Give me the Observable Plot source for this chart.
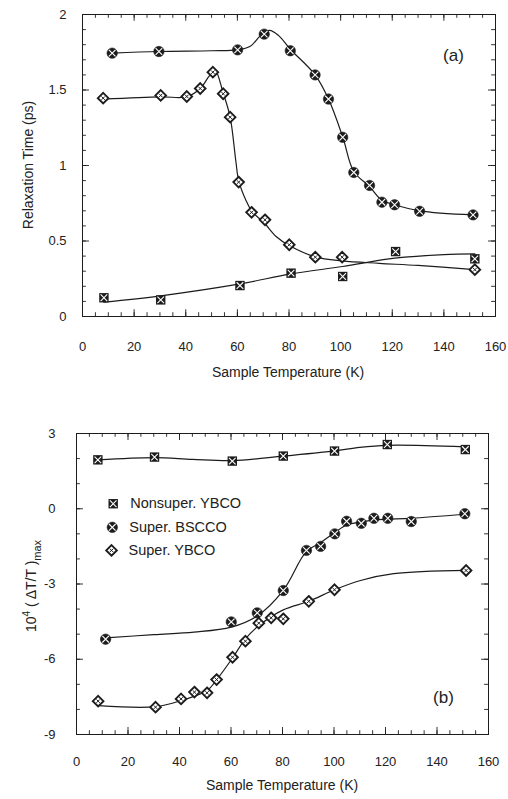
<!DOCTYPE html>
<html><head><meta charset="utf-8">
<script src="https://cdn.jsdelivr.net/npm/d3@7"></script>
<script src="https://cdn.jsdelivr.net/npm/@observablehq/plot@0.6"></script>
<style>
body{margin:0;background:#fff;}
#c{width:508px;}
#c svg{display:block;}
</style>
</head><body><div id="c"></div>
<script>
// ---------- Panel (a): Relaxation time (ps) vs sample temperature (K) ----------
const aBsccoT = [11.5, 29.6, 60.1, 70.4, 80.5, 90.1, 95.3, 100.8, 105.1, 111.2, 116, 120.9, 130.6, 151.3];
const aBsccoV = [1.744, 1.755, 1.766, 1.87, 1.76, 1.60, 1.44, 1.187, 0.954, 0.868, 0.757, 0.74, 0.697, 0.673];
const aBsccoCurveT = [11.5, 29.6, 50, 60.1, 65, 69, 72.5, 76, 80.5, 90.1, 95.3, 100.8, 105.1, 111.2, 116, 120.9, 130.6, 151.3];
const aBsccoCurveV = [1.744, 1.755, 1.76, 1.766, 1.79, 1.86, 1.895, 1.86, 1.77, 1.60, 1.44, 1.19, 0.96, 0.86, 0.77, 0.74, 0.70, 0.673];

const aSybcoT = [8, 30.3, 40.4, 45.6, 50.5, 54.5, 57.2, 60.5, 65.5, 70.7, 80.1, 90.2, 100.6, 152];
const aSybcoV = [1.446, 1.464, 1.457, 1.51, 1.618, 1.475, 1.32, 0.89, 0.69, 0.64, 0.475, 0.393, 0.393, 0.31];
const aSybcoCurveT = [8, 30.3, 40.4, 45.6, 49, 51.3, 54.5, 57.2, 59.4, 60.5, 63.3, 65.5, 70.7, 75, 80.1, 90.2, 100.6, 115, 130, 152];
const aSybcoCurveV = [1.44, 1.455, 1.455, 1.51, 1.59, 1.632, 1.48, 1.32, 1.03, 0.90, 0.77, 0.70, 0.614, 0.53, 0.47, 0.395, 0.368, 0.352, 0.338, 0.31];

const aNybcoT = [8.3, 30.3, 61, 80.8, 100.8, 121.3, 152];
const aNybcoV = [0.124, 0.11, 0.205, 0.287, 0.265, 0.43, 0.382];
const aNybcoCurveT = [8.3, 30.3, 61, 80.8, 100.8, 121, 140, 152];
const aNybcoCurveV = [0.095, 0.137, 0.216, 0.282, 0.331, 0.386, 0.41, 0.415];

const aXTicks = [0, 20, 40, 60, 80, 100, 120, 140, 160];
const aYTicks = [0, 0.5, 1, 1.5, 2];

// ---------- Panel (b): 10^4 (ΔT/T)max vs sample temperature (K) ----------
const bNybcoT = [8.3, 30.3, 60.5, 80.3, 100.2, 120.7, 151];
const bNybcoV = [1.95, 2.06, 1.90, 2.10, 2.30, 2.56, 2.36];
const bNybcoCurveT = [8.3, 30.3, 45, 60.5, 80.3, 100.2, 110, 120.7, 151];
const bNybcoCurveV = [1.95, 2.04, 1.97, 1.92, 2.10, 2.31, 2.45, 2.53, 2.47];

const bBsccoT = [11.3, 60.1, 70.2, 80.3, 89.3, 94.8, 100.3, 104.9, 110.6, 115.5, 120.9, 130, 150.8];
const bBsccoV = [-5.2, -4.51, -4.15, -3.26, -1.66, -1.5, -1.0, -0.50, -0.58, -0.38, -0.38, -0.51, -0.20];
const bBsccoCurveT = [11.3, 30, 45.6, 60.1, 70.2, 80.3, 89.3, 94.8, 100.3, 104.9, 110.6, 115.5, 120.9, 130, 150.8];
const bBsccoCurveV = [-5.15, -5.02, -4.92, -4.72, -4.27, -3.25, -1.7, -1.35, -0.95, -0.65, -0.52, -0.45, -0.42, -0.38, -0.22];

const bSybcoT = [8.4, 30.7, 40.6, 45.8, 50.7, 54.4, 60.6, 65.6, 70.8, 75.6, 80.3, 90.2, 100.2, 151.3];
const bSybcoV = [-7.67, -7.91, -7.58, -7.31, -7.34, -6.81, -5.92, -5.28, -4.56, -4.35, -4.39, -3.69, -3.23, -2.46];
const bSybcoCurveT = [8.4, 30.7, 40.6, 50.7, 54.4, 60.6, 65.6, 70.8, 80.3, 90.2, 100.2, 110.3, 123.2, 151.3];
const bSybcoCurveV = [-7.85, -7.89, -7.65, -7.25, -6.82, -5.95, -5.19, -4.66, -4.03, -3.69, -3.23, -2.86, -2.59, -2.46];

const bXTicks = [0, 20, 40, 60, 80, 100, 120, 140, 160];
const bYTicks = [3, 0, -3, -6, -9];

const legendLabels = ["Nonsuper. YBCO", "Super. BSCCO", "Super. YBCO"];
const panelLabels = ["(a)", "(b)"];

// ---------- helpers ----------
const pts = (T, V) => T.map((t, i) => ({t, v: V[i]}));
const INK = "#1c1c1c";
const FONT = "'Liberation Sans', Arial, Helvetica, sans-serif";

function circles(data) {
  return [
    Plot.dot(data, {x: "t", y: "v", r: 5.2, fill: INK, stroke: INK, strokeWidth: 0.6}),
    Plot.dot(data, {x: "t", y: "v", symbol: "times", r: 3.1, stroke: "white", strokeWidth: 1.1})
  ];
}
function squares(data) {
  return [
    Plot.dot(data, {x: "t", y: "v", symbol: "square", r: 5.3, fill: INK}),
    Plot.dot(data, {x: "t", y: "v", symbol: "times", r: 3.1, stroke: "white", strokeWidth: 1.1})
  ];
}
function diamonds(data) {
  return [
    Plot.dot(data, {x: "t", y: "v", symbol: "diamond2", r: 4.8, fill: "white", stroke: INK, strokeWidth: 1.9}),
    Plot.dot(data, {x: "t", y: "v", symbol: "times", r: 1.7, stroke: INK, strokeWidth: 1})
  ];
}
function curve(data) {
  return Plot.line(data, {x: "t", y: "v", curve: "catmull-rom", stroke: INK, strokeWidth: 1.2});
}
function ticks(xmin, xmax, ymin, ymax, xMajor, xMinor, yMajor, yMinor, xLenMaj, xLenMin, yLenMaj, yLenMin) {
  const xmaj = d3.range(xmin, xmax + 1e-9, xMajor);
  const xmin_ = d3.range(xmin, xmax + 1e-9, xMinor);
  const ymaj = d3.range(ymin, ymax + 1e-9, yMajor);
  const ymin_ = d3.range(ymin, ymax + 1e-9, yMinor);
  const s = {stroke: INK, strokeWidth: 0.9};
  return [
    Plot.ruleX(xmin_, {x: d => d, y1: ymin, y2: ymin + xLenMin, ...s}),
    Plot.ruleX(xmaj, {x: d => d, y1: ymin, y2: ymin + xLenMaj, ...s}),
    Plot.ruleX(xmin_, {x: d => d, y1: ymax, y2: ymax - xLenMin, ...s}),
    Plot.ruleX(xmaj, {x: d => d, y1: ymax, y2: ymax - xLenMaj, ...s}),
    Plot.ruleY(ymin_, {y: d => d, x1: xmin, x2: xmin + yLenMin, ...s}),
    Plot.ruleY(ymaj, {y: d => d, x1: xmin, x2: xmin + yLenMaj, ...s}),
    Plot.ruleY(ymin_, {y: d => d, x1: xmax, x2: xmax - yLenMin, ...s}),
    Plot.ruleY(ymaj, {y: d => d, x1: xmax, x2: xmax - yLenMaj, ...s})
  ];
}

// ---------- Panel (a) ----------
const plotA = Plot.plot({
  width: 508, height: 390,
  marginLeft: 82, marginRight: 13, marginTop: 14, marginBottom: 74,
  style: {fontFamily: FONT, fontSize: "13px", color: "#222", background: "white"},
  x: {domain: [0, 160], ticks: aXTicks, tickSize: 0, tickPadding: 25, tickFormat: d => String(d), label: null},
  y: {domain: [0, 2], ticks: aYTicks, tickSize: 0, tickPadding: 16, tickFormat: d => String(d), label: null},
  marks: [
    ...ticks(0, 160, 0, 2, 20, 5, 0.5, 0.1, 0.045, 0.025, 2.7, 1.5),
    Plot.frame({stroke: INK, strokeWidth: 1}),
    curve(pts(aBsccoCurveT, aBsccoCurveV)),
    curve(pts(aSybcoCurveT, aSybcoCurveV)),
    curve(pts(aNybcoCurveT, aNybcoCurveV)),
    ...circles(pts(aBsccoT, aBsccoV)),
    ...diamonds(pts(aSybcoT, aSybcoV)),
    ...squares(pts(aNybcoT, aNybcoV)),
    Plot.text([panelLabels[0]], {x: 143.7, y: 1.73, text: d => d, fontSize: 17, fill: "#222"})
  ]
});

// ---------- Panel (b) ----------
const legendData = [
  {label: legendLabels[0], t: 14.25, v: 0.2},
  {label: legendLabels[1], t: 13.9, v: -0.74},
  {label: legendLabels[2], t: 13.6, v: -1.66}
];
const plotB = Plot.plot({
  width: 508, height: 409,
  marginLeft: 76, marginRight: 20, marginTop: 43, marginBottom: 65,
  style: {fontFamily: FONT, fontSize: "13px", color: "#222", background: "white"},
  x: {domain: [0, 160], ticks: bXTicks, tickSize: 0, tickPadding: 22, tickFormat: d => String(d), label: null},
  y: {domain: [-9, 3], ticks: bYTicks, tickSize: 0, tickPadding: 21, tickFormat: d => String(d), label: null},
  marks: [
    ...ticks(0, 160, -9, 3, 20, 5, 3, 1, 0.28, 0.15, 2.7, 1.5),
    Plot.frame({stroke: INK, strokeWidth: 1}),
    curve(pts(bNybcoCurveT, bNybcoCurveV)),
    curve(pts(bBsccoCurveT, bBsccoCurveV)),
    curve(pts(bSybcoCurveT, bSybcoCurveV)),
    ...squares(pts(bNybcoT, bNybcoV)),
    ...circles(pts(bBsccoT, bBsccoV)),
    ...diamonds(pts(bSybcoT, bSybcoV)),
    ...squares([legendData[0]]),
    ...circles([legendData[1]]),
    ...diamonds([legendData[2]]),
    Plot.text(legendData, {x: "t", y: "v", text: "label", dx: 17, textAnchor: "start", fontSize: 14.5, fill: "#222"}),
    Plot.text([panelLabels[1]], {x: 142.5, y: -7.53, text: d => d, fontSize: 17, fill: "#222"})
  ]
});

const c = document.getElementById("c");
c.appendChild(plotA);
c.appendChild(plotB);

// axis titles
const sa = d3.select(plotA);
sa.append("text").attr("x", 288).attr("y", 377).attr("text-anchor", "middle")
  .attr("font-size", 14).attr("fill", "#222").text("Sample Temperature (K)");
sa.append("text").attr("transform", "translate(33,165) rotate(-90)").attr("text-anchor", "middle")
  .attr("font-size", 14).attr("fill", "#222").text("Relaxation Time (ps)");

const sb = d3.select(plotB);
sb.append("text").attr("x", 282).attr("y", 400).attr("text-anchor", "middle")
  .attr("font-size", 14).attr("fill", "#222").text("Sample Temperature (K)");
const yl = sb.append("text").attr("transform", "translate(36,196) rotate(-90)").attr("text-anchor", "middle")
  .attr("font-size", 14).attr("fill", "#222");
yl.append("tspan").text("10");
yl.append("tspan").attr("dy", -6).attr("font-size", 10).text("4");
yl.append("tspan").attr("dy", 6).text(" ( \u0394T/T )");
yl.append("tspan").attr("dy", 5).attr("font-size", 11).text("max");
</script></body></html>
